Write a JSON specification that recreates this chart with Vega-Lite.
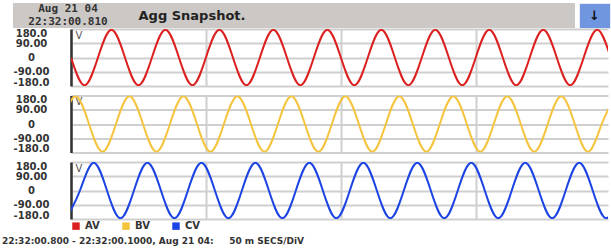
{
  "$schema": "https://vega.github.io/schema/vega-lite/v6.json",
  "padding": {"left": 0, "top": 2, "right": 0, "bottom": 0},
  "background": "white",
  "config": {
    "view": {"stroke": null},
    "font": "DejaVu Sans",
    "axisX": {"labels": false, "ticks": false, "domain": false, "grid": true, "gridColor": "#cfcfcf", "gridWidth": 2},
    "axisLeft": {"labels": false, "ticks": false, "domain": true, "domainColor": "#333333", "domainWidth": 2.5, "grid": true, "gridColor": "#cfcfcf", "gridWidth": 2},
    "axisRight": {"ticks": false, "domain": false, "grid": false, "labelAlign": "center", "labelPadding": 30, "labelFlush": true, "labelFlushOffset": 1, "labelOverlap": false, "labelFont": "DejaVu Sans", "labelFontSize": 10, "labelFontWeight": "bold", "labelColor": "#333333"}
  },
  "title": {"text": "22:32:00.800 - 22:32:00.1000, Aug 21 04:\u00a0\u00a0\u00a0\u00a0 50 m SECS/DiV", "orient": "bottom", "anchor": "start", "frame": "bounds", "font": "DejaVu Sans", "fontSize": 9, "fontWeight": "bold", "color": "#333333", "offset": 1, "dx": 2},
  "datasets": {
    "wave": [
      {"s":"AV","t":0,"v":0},{"s":"AV","t":5,"v":-175},{"s":"AV","t":10,"v":0},{"s":"AV","t":15,"v":175},{"s":"AV","t":20,"v":0},{"s":"AV","t":25,"v":-175},{"s":"AV","t":30,"v":0},{"s":"AV","t":35,"v":175},{"s":"AV","t":40,"v":0},{"s":"AV","t":45,"v":-175},{"s":"AV","t":50,"v":0},{"s":"AV","t":55,"v":175},{"s":"AV","t":60,"v":0},{"s":"AV","t":65,"v":-175},{"s":"AV","t":70,"v":0},{"s":"AV","t":75,"v":175},{"s":"AV","t":80,"v":0},{"s":"AV","t":85,"v":-175},{"s":"AV","t":90,"v":0},{"s":"AV","t":95,"v":175},{"s":"AV","t":100,"v":0},{"s":"AV","t":105,"v":-175},{"s":"AV","t":110,"v":0},{"s":"AV","t":115,"v":175},{"s":"AV","t":120,"v":0},{"s":"AV","t":125,"v":-175},{"s":"AV","t":130,"v":0},{"s":"AV","t":135,"v":175},{"s":"AV","t":140,"v":0},{"s":"AV","t":145,"v":-175},{"s":"AV","t":150,"v":0},{"s":"AV","t":155,"v":175},{"s":"AV","t":160,"v":0},{"s":"AV","t":165,"v":-175},{"s":"AV","t":170,"v":0},{"s":"AV","t":175,"v":175},{"s":"AV","t":180,"v":0},{"s":"AV","t":185,"v":-175},{"s":"AV","t":190,"v":0},{"s":"AV","t":195,"v":175},{"s":"AV","t":200,"v":0},
      {"s":"BV","t":-3.33,"v":0},{"s":"BV","t":1.67,"v":175},{"s":"BV","t":6.67,"v":0},{"s":"BV","t":11.67,"v":-175},{"s":"BV","t":16.67,"v":0},{"s":"BV","t":21.67,"v":175},{"s":"BV","t":26.67,"v":0},{"s":"BV","t":31.67,"v":-175},{"s":"BV","t":36.67,"v":0},{"s":"BV","t":41.67,"v":175},{"s":"BV","t":46.67,"v":0},{"s":"BV","t":51.67,"v":-175},{"s":"BV","t":56.67,"v":0},{"s":"BV","t":61.67,"v":175},{"s":"BV","t":66.67,"v":0},{"s":"BV","t":71.67,"v":-175},{"s":"BV","t":76.67,"v":0},{"s":"BV","t":81.67,"v":175},{"s":"BV","t":86.67,"v":0},{"s":"BV","t":91.67,"v":-175},{"s":"BV","t":96.67,"v":0},{"s":"BV","t":101.67,"v":175},{"s":"BV","t":106.67,"v":0},{"s":"BV","t":111.67,"v":-175},{"s":"BV","t":116.67,"v":0},{"s":"BV","t":121.67,"v":175},{"s":"BV","t":126.67,"v":0},{"s":"BV","t":131.67,"v":-175},{"s":"BV","t":136.67,"v":0},{"s":"BV","t":141.67,"v":175},{"s":"BV","t":146.67,"v":0},{"s":"BV","t":151.67,"v":-175},{"s":"BV","t":156.67,"v":0},{"s":"BV","t":161.67,"v":175},{"s":"BV","t":166.67,"v":0},{"s":"BV","t":171.67,"v":-175},{"s":"BV","t":176.67,"v":0},{"s":"BV","t":181.67,"v":175},{"s":"BV","t":186.67,"v":0},{"s":"BV","t":191.67,"v":-175},{"s":"BV","t":196.67,"v":0},{"s":"BV","t":201.67,"v":175},
      {"s":"CV","t":-1.67,"v":-175},{"s":"CV","t":3.33,"v":0},{"s":"CV","t":8.33,"v":175},{"s":"CV","t":13.33,"v":0},{"s":"CV","t":18.33,"v":-175},{"s":"CV","t":23.33,"v":0},{"s":"CV","t":28.33,"v":175},{"s":"CV","t":33.33,"v":0},{"s":"CV","t":38.33,"v":-175},{"s":"CV","t":43.33,"v":0},{"s":"CV","t":48.33,"v":175},{"s":"CV","t":53.33,"v":0},{"s":"CV","t":58.33,"v":-175},{"s":"CV","t":63.33,"v":0},{"s":"CV","t":68.33,"v":175},{"s":"CV","t":73.33,"v":0},{"s":"CV","t":78.33,"v":-175},{"s":"CV","t":83.33,"v":0},{"s":"CV","t":88.33,"v":175},{"s":"CV","t":93.33,"v":0},{"s":"CV","t":98.33,"v":-175},{"s":"CV","t":103.33,"v":0},{"s":"CV","t":108.33,"v":175},{"s":"CV","t":113.33,"v":0},{"s":"CV","t":118.33,"v":-175},{"s":"CV","t":123.33,"v":0},{"s":"CV","t":128.33,"v":175},{"s":"CV","t":133.33,"v":0},{"s":"CV","t":138.33,"v":-175},{"s":"CV","t":143.33,"v":0},{"s":"CV","t":148.33,"v":175},{"s":"CV","t":153.33,"v":0},{"s":"CV","t":158.33,"v":-175},{"s":"CV","t":163.33,"v":0},{"s":"CV","t":168.33,"v":175},{"s":"CV","t":173.33,"v":0},{"s":"CV","t":178.33,"v":-175},{"s":"CV","t":183.33,"v":0},{"s":"CV","t":188.33,"v":175},{"s":"CV","t":193.33,"v":0},{"s":"CV","t":198.33,"v":-175},{"s":"CV","t":203.33,"v":0}
    ]
  },
  "spacing": -1,
  "vconcat": [
    {
      "spacing": 0,
      "hconcat": [
        {"width": 13, "height": 25, "data": {"values": [{}]}, "mark": {"type": "text", "text": ""}},
        {"spacing": 0, "vconcat": [
          {"width": 110, "height": 12, "view": {"fill": "#cbc8c5", "stroke": null}, "data": {"values": [{}]},
           "mark": {"type": "text", "text": "Aug 21 04\u00a0\u00a0\u00a0", "font": "DejaVu Sans Mono", "fontSize": 11, "fontWeight": "bold", "color": "#333333"}},
          {"width": 110, "height": 13, "view": {"fill": "#cbc8c5", "stroke": null}, "data": {"values": [{}]},
           "mark": {"type": "text", "text": "22:32:00.810", "font": "DejaVu Sans Mono", "fontSize": 11, "fontWeight": "bold", "color": "#333333"}}
        ]},
        {"width": 138, "height": 25, "view": {"fill": "#cbc8c5", "stroke": null}, "data": {"values": [{}]},
         "mark": {"type": "text", "text": "Agg Snapshot.", "font": "DejaVu Sans", "fontSize": 13, "fontWeight": "bold", "color": "#222222"}},
        {"width": 314, "height": 25, "view": {"fill": "#cbc8c5", "stroke": null}, "data": {"values": [{}]}, "mark": {"type": "text", "text": ""}},
        {"width": 3, "height": 25, "data": {"values": [{}]}, "mark": {"type": "text", "text": ""}},
        {"width": 31, "height": 25, "view": {"fill": "#7196e0", "stroke": "#e6ecf7", "strokeWidth": 1}, "data": {"values": [{}]},
         "mark": {"type": "text", "text": "↓", "font": "DejaVu Sans", "fontSize": 13, "fontWeight": "bold", "color": "#111111"}}
      ]
    },
    {
      "spacing": 7.5,
      "resolve": {"scale": {"color": "independent"}, "legend": {"color": "independent"}},
      "vconcat": [
        {
          "spacing": 22,
          "hconcat": [
            {"width": 1, "height": 57, "data": {"values": [{"v": 0}]}, "mark": {"type": "text", "text": ""},
             "encoding": {"y": {"field": "v", "type": "quantitative", "title": null, "scale": {"domain": [-180, 180], "nice": false},
               "axis": {"orient": "right", "values": [-180, -90, 0, 90, 180], "labelExpr": "datum.value === 180 ? '180.0' : datum.value === 90 ? '90.00' : datum.value === 0 ? '0' : datum.value === -90 ? '-90.00' : '-180.0'"}}}},
            {
              "data": {"name": "wave"},
              "transform": [{"filter": "datum.s === 'AV'"}],
              "width": 537, "height": 57,
              "mark": {"type": "line", "interpolate": "natural", "clip": true, "strokeWidth": 2},
              "encoding": {
                "x": {"field": "t", "type": "quantitative", "title": null, "scale": {"domain": [0, 199], "nice": false, "zero": false}, "axis": {"values": [0, 50, 100, 150]}},
                "y": {"field": "v", "type": "quantitative", "scale": {"domain": [-180, 180], "nice": false},
                      "axis": {"orient": "left", "values": [-180, -90, 0, 90, 180], "title": "V", "titleAngle": 0, "titleX": 4, "titleY": 1, "titleAlign": "left", "titleBaseline": "top", "titleFontSize": 10, "titleFontWeight": "normal", "titleColor": "#555555"}},
                "color": {"field": "s", "type": "nominal", "scale": {"domain": ["AV", "BV", "CV"], "range": ["#dc2020", "#f5c43f", "#1c44e4"]}, "legend": null}
              }
            }
          ]
        },
        {
          "spacing": 22,
          "hconcat": [
            {"width": 1, "height": 57, "data": {"values": [{"v": 0}]}, "mark": {"type": "text", "text": ""},
             "encoding": {"y": {"field": "v", "type": "quantitative", "title": null, "scale": {"domain": [-180, 180], "nice": false},
               "axis": {"orient": "right", "values": [-180, -90, 0, 90, 180], "labelExpr": "datum.value === 180 ? '180.0' : datum.value === 90 ? '90.00' : datum.value === 0 ? '0' : datum.value === -90 ? '-90.00' : '-180.0'"}}}},
            {
              "data": {"name": "wave"},
              "transform": [{"filter": "datum.s === 'BV'"}],
              "width": 537, "height": 57,
              "mark": {"type": "line", "interpolate": "natural", "clip": true, "strokeWidth": 2},
              "encoding": {
                "x": {"field": "t", "type": "quantitative", "title": null, "scale": {"domain": [0, 199], "nice": false, "zero": false}, "axis": {"values": [0, 50, 100, 150]}},
                "y": {"field": "v", "type": "quantitative", "scale": {"domain": [-180, 180], "nice": false},
                      "axis": {"orient": "left", "values": [-180, -90, 0, 90, 180], "title": "V", "titleAngle": 0, "titleX": 4, "titleY": 1, "titleAlign": "left", "titleBaseline": "top", "titleFontSize": 10, "titleFontWeight": "normal", "titleColor": "#555555"}},
                "color": {"field": "s", "type": "nominal", "scale": {"domain": ["AV", "BV", "CV"], "range": ["#dc2020", "#f5c43f", "#1c44e4"]}, "legend": null}
              }
            }
          ]
        },
        {
          "spacing": 22,
          "resolve": {"scale": {"color": "independent"}, "legend": {"color": "independent"}},
          "hconcat": [
            {"width": 1, "height": 57, "data": {"values": [{"v": 0}]}, "mark": {"type": "text", "text": ""},
             "encoding": {"y": {"field": "v", "type": "quantitative", "title": null, "scale": {"domain": [-180, 180], "nice": false},
               "axis": {"orient": "right", "values": [-180, -90, 0, 90, 180], "labelExpr": "datum.value === 180 ? '180.0' : datum.value === 90 ? '90.00' : datum.value === 0 ? '0' : datum.value === -90 ? '-90.00' : '-180.0'"}}}},
            {
              "data": {"name": "wave"},
              "transform": [{"filter": "datum.s === 'CV'"}],
              "width": 537, "height": 57,
              "mark": {"type": "line", "interpolate": "natural", "clip": true, "strokeWidth": 2},
              "encoding": {
                "x": {"field": "t", "type": "quantitative", "title": null, "scale": {"domain": [0, 199], "nice": false, "zero": false}, "axis": {"values": [0, 50, 100, 150]}},
                "y": {"field": "v", "type": "quantitative", "scale": {"domain": [-180, 180], "nice": false},
                      "axis": {"orient": "left", "values": [-180, -90, 0, 90, 180], "title": "V", "titleAngle": 0, "titleX": 4, "titleY": 1, "titleAlign": "left", "titleBaseline": "top", "titleFontSize": 10, "titleFontWeight": "normal", "titleColor": "#555555"}},
                "color": {"field": "s", "type": "nominal", "scale": {"domain": ["AV", "BV", "CV"], "range": ["#dc2020", "#f5c43f", "#1c44e4"]},
                          "legend": {"orient": "bottom", "direction": "horizontal", "title": null, "symbolType": "square", "symbolSize": 12, "symbolStrokeWidth": 4, "labelFont": "DejaVu Sans", "labelFontSize": 10, "labelFontWeight": "bold", "labelColor": "#333333", "gridAlign": "all", "columnPadding": 15, "labelOffset": 4, "offset": 2, "padding": 0}}
              }
            }
          ]
        }
      ]
    }
  ]
}
